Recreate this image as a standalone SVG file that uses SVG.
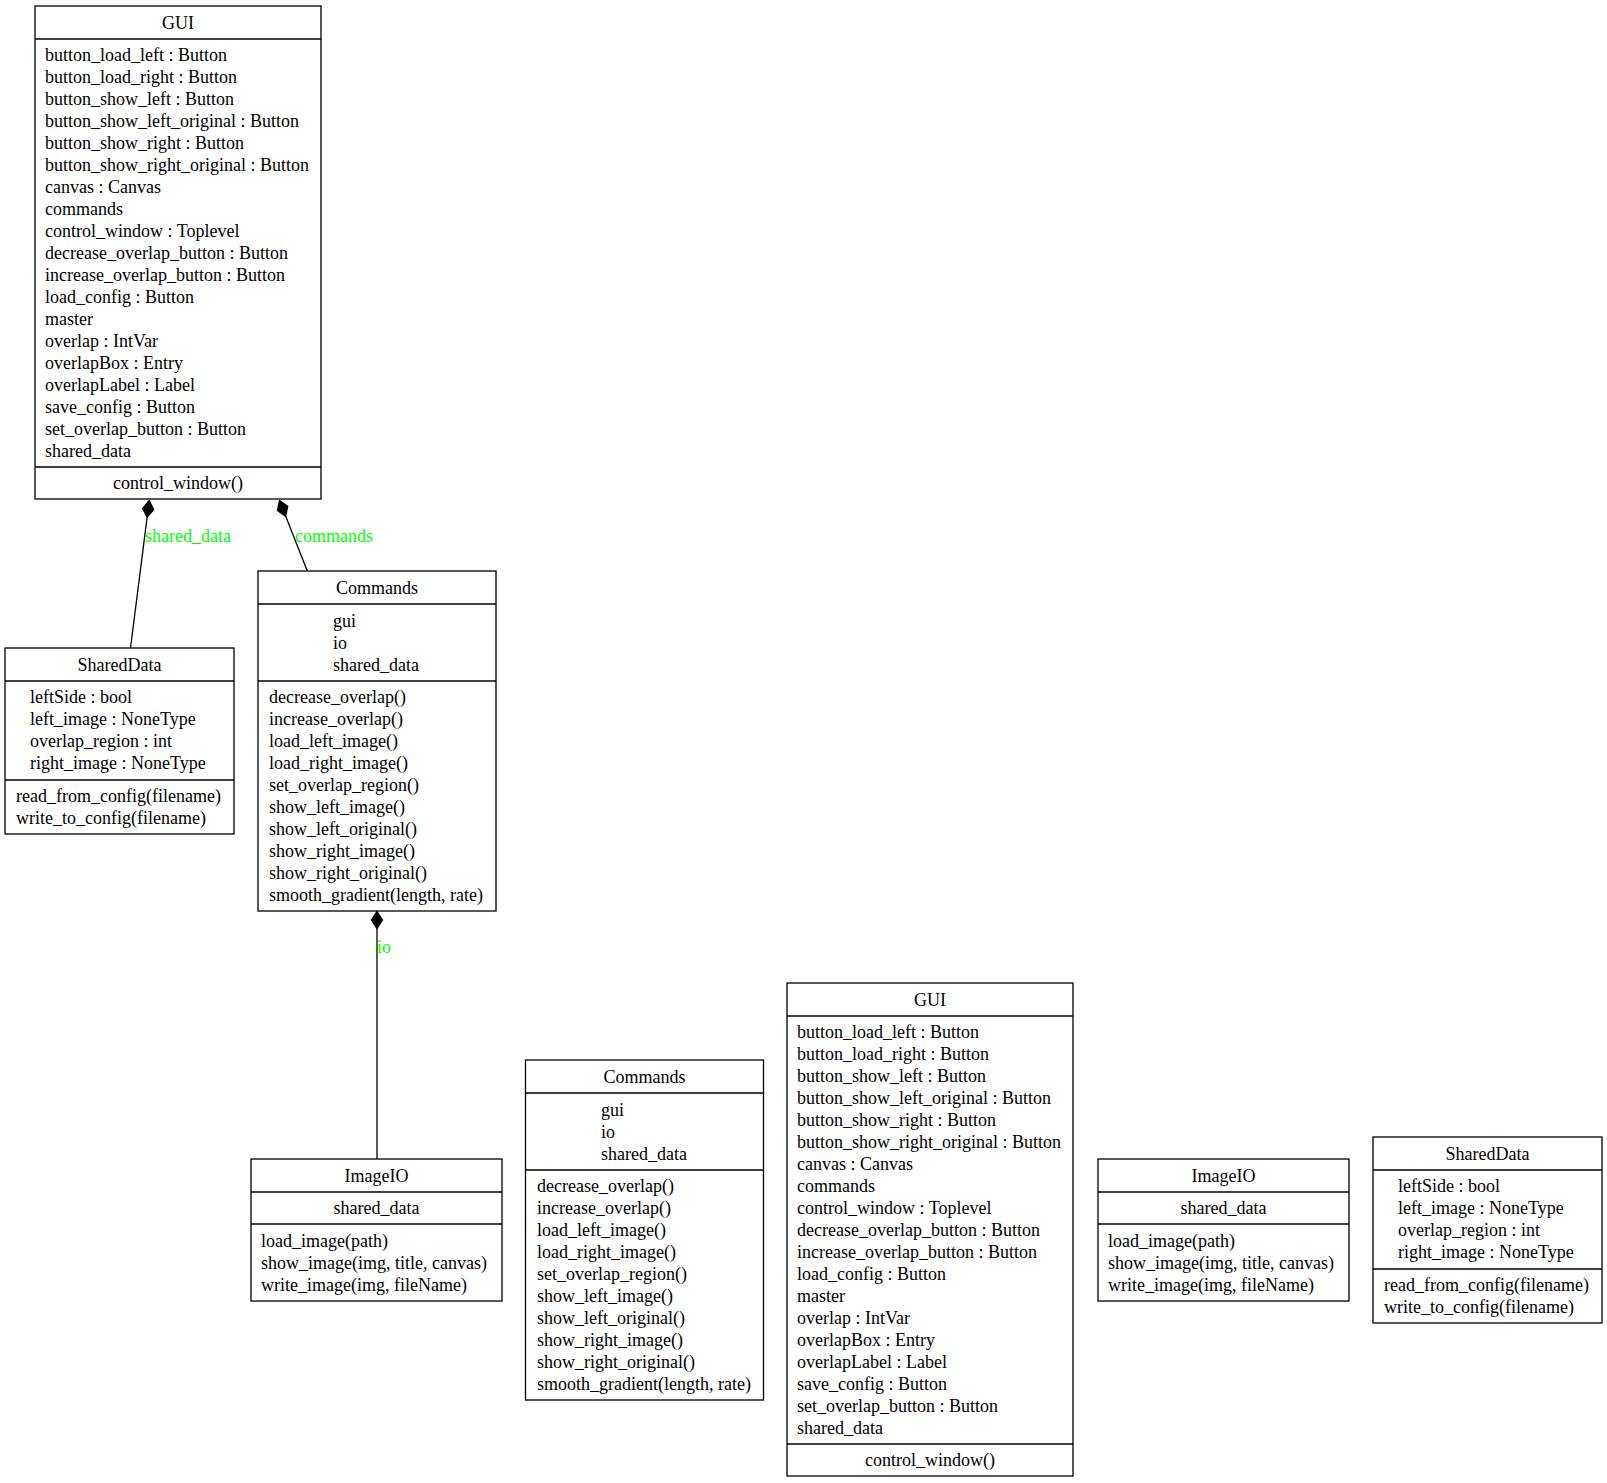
<svg xmlns="http://www.w3.org/2000/svg" width="1607" height="1483" viewBox="0 0 1607 1483">
<style>
text{font-family:"Liberation Serif","Times New Roman",serif;font-size:18px;fill:#000}
.c{text-anchor:middle}
.lbl{fill:#00ff00}
.box{fill:none;stroke:#000;stroke-width:1.3}
.sep{stroke:#000;stroke-width:1.3}
.edge{stroke:#000;stroke-width:1.3;fill:none}
.dia{fill:#000;stroke:#000;stroke-width:1.3}
</style>
<rect x="0" y="0" width="1607" height="1483" fill="#fff"/>

<g id="connectors">
  <polygon class="dia" points="149.2,500.5 153.6,509.7 147.1,517.4 142.7,508.3"/>
  <path class="edge" d="M147.1,517.4 L130.5,648"/>
  <text class="lbl" x="145" y="542">shared_data</text>
  <polygon class="dia" points="279.5,500.5 287.7,506.4 285.7,516.3 277.5,510.4"/>
  <path class="edge" d="M285.7,516.3 L307.3,571"/>
  <text class="lbl" x="295" y="542">commands</text>
  <polygon class="dia" points="377,911.5 382.5,920 377,928.5 371.5,920"/>
  <path class="edge" d="M377,928.5 L377,1159"/>
  <text class="lbl" x="377" y="953">io</text>
</g>

<g id="gui1">
  <rect class="box" x="35" y="6" width="286" height="493"/>
  <line class="sep" x1="35" y1="39" x2="321" y2="39"/>
  <line class="sep" x1="35" y1="467" x2="321" y2="467"/>
  <text class="c" x="178" y="28.5">GUI</text>
  <text x="45" y="61">button_load_left : Button</text>
  <text x="45" y="83">button_load_right : Button</text>
  <text x="45" y="105">button_show_left : Button</text>
  <text x="45" y="127">button_show_left_original : Button</text>
  <text x="45" y="149">button_show_right : Button</text>
  <text x="45" y="171">button_show_right_original : Button</text>
  <text x="45" y="193">canvas : Canvas</text>
  <text x="45" y="215">commands</text>
  <text x="45" y="237">control_window : Toplevel</text>
  <text x="45" y="259">decrease_overlap_button : Button</text>
  <text x="45" y="281">increase_overlap_button : Button</text>
  <text x="45" y="303">load_config : Button</text>
  <text x="45" y="325">master</text>
  <text x="45" y="347">overlap : IntVar</text>
  <text x="45" y="369">overlapBox : Entry</text>
  <text x="45" y="391">overlapLabel : Label</text>
  <text x="45" y="413">save_config : Button</text>
  <text x="45" y="435">set_overlap_button : Button</text>
  <text x="45" y="457">shared_data</text>
  <text class="c" x="178" y="489">control_window()</text>
</g>

<g id="shareddata1">
  <rect class="box" x="5" y="648" width="229" height="186"/>
  <line class="sep" x1="5" y1="681" x2="234" y2="681"/>
  <line class="sep" x1="5" y1="780" x2="234" y2="780"/>
  <text class="c" x="119.5" y="671">SharedData</text>
  <text x="30" y="703">leftSide : bool</text>
  <text x="30" y="725">left_image : NoneType</text>
  <text x="30" y="747">overlap_region : int</text>
  <text x="30" y="769">right_image : NoneType</text>
  <text x="16" y="802">read_from_config(filename)</text>
  <text x="16" y="824">write_to_config(filename)</text>
</g>

<g id="commands1">
  <rect class="box" x="258" y="571" width="238" height="340"/>
  <line class="sep" x1="258" y1="604" x2="496" y2="604"/>
  <line class="sep" x1="258" y1="681" x2="496" y2="681"/>
  <text class="c" x="377" y="594">Commands</text>
  <text x="333" y="627">gui</text>
  <text x="333" y="649">io</text>
  <text x="333" y="671">shared_data</text>
  <text x="269" y="703">decrease_overlap()</text>
  <text x="269" y="725">increase_overlap()</text>
  <text x="269" y="747">load_left_image()</text>
  <text x="269" y="769">load_right_image()</text>
  <text x="269" y="791">set_overlap_region()</text>
  <text x="269" y="813">show_left_image()</text>
  <text x="269" y="835">show_left_original()</text>
  <text x="269" y="857">show_right_image()</text>
  <text x="269" y="879">show_right_original()</text>
  <text x="269" y="901">smooth_gradient(length, rate)</text>
</g>

<g id="imageio1">
  <rect class="box" x="251" y="1159" width="251" height="142"/>
  <line class="sep" x1="251" y1="1192" x2="502" y2="1192"/>
  <line class="sep" x1="251" y1="1224" x2="502" y2="1224"/>
  <text class="c" x="376.5" y="1182">ImageIO</text>
  <text class="c" x="376.5" y="1214">shared_data</text>
  <text x="261" y="1247">load_image(path)</text>
  <text x="261" y="1269">show_image(img, title, canvas)</text>
  <text x="261" y="1291">write_image(img, fileName)</text>
</g>

<g id="commands2">
  <rect class="box" x="525.5" y="1060" width="238" height="340"/>
  <line class="sep" x1="525.5" y1="1093" x2="763.5" y2="1093"/>
  <line class="sep" x1="525.5" y1="1170" x2="763.5" y2="1170"/>
  <text class="c" x="644.5" y="1083">Commands</text>
  <text x="601" y="1116">gui</text>
  <text x="601" y="1138">io</text>
  <text x="601" y="1160">shared_data</text>
  <text x="537" y="1192">decrease_overlap()</text>
  <text x="537" y="1214">increase_overlap()</text>
  <text x="537" y="1236">load_left_image()</text>
  <text x="537" y="1258">load_right_image()</text>
  <text x="537" y="1280">set_overlap_region()</text>
  <text x="537" y="1302">show_left_image()</text>
  <text x="537" y="1324">show_left_original()</text>
  <text x="537" y="1346">show_right_image()</text>
  <text x="537" y="1368">show_right_original()</text>
  <text x="537" y="1390">smooth_gradient(length, rate)</text>
</g>

<g id="gui2">
  <rect class="box" x="787" y="983" width="286" height="493"/>
  <line class="sep" x1="787" y1="1016" x2="1073" y2="1016"/>
  <line class="sep" x1="787" y1="1444" x2="1073" y2="1444"/>
  <text class="c" x="930" y="1005.5">GUI</text>
  <text x="797" y="1038">button_load_left : Button</text>
  <text x="797" y="1060">button_load_right : Button</text>
  <text x="797" y="1082">button_show_left : Button</text>
  <text x="797" y="1104">button_show_left_original : Button</text>
  <text x="797" y="1126">button_show_right : Button</text>
  <text x="797" y="1148">button_show_right_original : Button</text>
  <text x="797" y="1170">canvas : Canvas</text>
  <text x="797" y="1192">commands</text>
  <text x="797" y="1214">control_window : Toplevel</text>
  <text x="797" y="1236">decrease_overlap_button : Button</text>
  <text x="797" y="1258">increase_overlap_button : Button</text>
  <text x="797" y="1280">load_config : Button</text>
  <text x="797" y="1302">master</text>
  <text x="797" y="1324">overlap : IntVar</text>
  <text x="797" y="1346">overlapBox : Entry</text>
  <text x="797" y="1368">overlapLabel : Label</text>
  <text x="797" y="1390">save_config : Button</text>
  <text x="797" y="1412">set_overlap_button : Button</text>
  <text x="797" y="1434">shared_data</text>
  <text class="c" x="930" y="1466">control_window()</text>
</g>

<g id="imageio2">
  <rect class="box" x="1098" y="1159" width="251" height="142"/>
  <line class="sep" x1="1098" y1="1192" x2="1349" y2="1192"/>
  <line class="sep" x1="1098" y1="1224" x2="1349" y2="1224"/>
  <text class="c" x="1223.5" y="1182">ImageIO</text>
  <text class="c" x="1223.5" y="1214">shared_data</text>
  <text x="1108" y="1247">load_image(path)</text>
  <text x="1108" y="1269">show_image(img, title, canvas)</text>
  <text x="1108" y="1291">write_image(img, fileName)</text>
</g>

<g id="shareddata2">
  <rect class="box" x="1373" y="1137" width="229" height="186"/>
  <line class="sep" x1="1373" y1="1170" x2="1602" y2="1170"/>
  <line class="sep" x1="1373" y1="1269" x2="1602" y2="1269"/>
  <text class="c" x="1487.5" y="1160">SharedData</text>
  <text x="1398" y="1192">leftSide : bool</text>
  <text x="1398" y="1214">left_image : NoneType</text>
  <text x="1398" y="1236">overlap_region : int</text>
  <text x="1398" y="1258">right_image : NoneType</text>
  <text x="1384" y="1291">read_from_config(filename)</text>
  <text x="1384" y="1313">write_to_config(filename)</text>
</g>
</svg>
